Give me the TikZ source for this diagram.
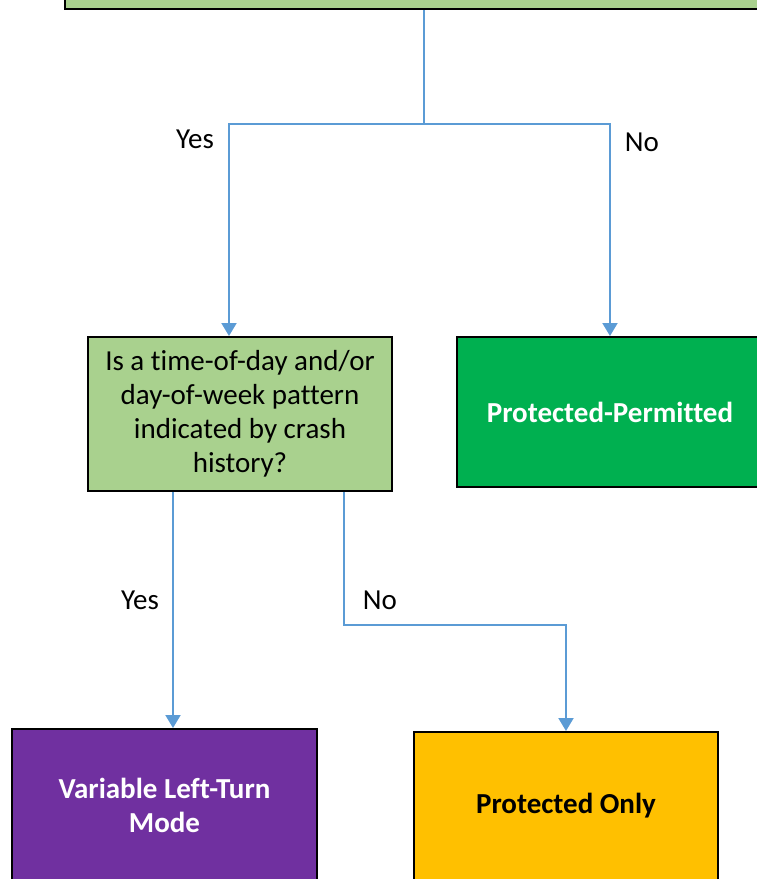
\documentclass[tikz,border=0pt]{standalone}
\usepackage{fontspec}
\setmainfont{Carlito}[Ligatures=NoCommon]
\usetikzlibrary{arrows.meta}

\definecolor{qgreen}{HTML}{A9D18E}
\definecolor{ppgreen}{HTML}{00B050}
\definecolor{vltpurple}{HTML}{7030A0}
\definecolor{poyellow}{HTML}{FFC000}
\definecolor{flowblue}{HTML}{5B9BD5}

\begin{document}
\begin{tikzpicture}[x=1pt, y=-1pt, line join=miter,
  box/.style={draw=black, line width=2pt, inner sep=0pt, align=center,
              font=\fontsize{29}{34}\selectfont},
  flow/.style={draw=flowblue, line width=2pt, -{Triangle[width=15pt,length=13pt]}},
  lbl/.style={font=\fontsize{29}{34}\selectfont, inner sep=0pt}]

  %% ════ boxes ════
  \node[box, fill=qgreen, anchor=south west, minimum width=760pt, minimum height=100pt] (top) at (64,10) {};
  \node[box, fill=qgreen, anchor=north west, minimum width=304pt, minimum height=154pt] (q) at (87,336)
    {Is a time-of-day and/or\\day-of-week pattern\\indicated by crash\\history?};
  \node[box, fill=ppgreen, anchor=north west, minimum width=306pt, minimum height=150pt,
        text=white, font=\fontsize{29}{34}\selectfont\bfseries] (pp) at (456,336) {Protected-Permitted};
  \node[box, fill=vltpurple, anchor=north west, minimum width=305pt, minimum height=152pt,
        text=white, font=\fontsize{29}{34}\selectfont\bfseries] (vlt) at (11,728) {Variable Left-Turn\\Mode};
  \node[box, fill=poyellow, anchor=north west, minimum width=304pt, minimum height=148pt,
        font=\fontsize{29}{34}\selectfont\bfseries] (po) at (413,731) {Protected Only};

  %% ════ connectors ════
  \coordinate (split) at (424,124);
  \draw[flow] (top.south -| split) -- (split) -| ([xshift=-11pt]q.north);
  \draw[flow] (split) -| (pp.north);
  \draw[flow] ([xshift=-67pt]q.south) -- ([xshift=-67pt]q.south |- vlt.north);
  \draw[flow] ([xshift=104pt]q.south) -- ++(0,133) -| (po.north);

  %% ════ labels ════
  \node[lbl] (yestop) at (195,139) {Yes};
  \node[lbl] (notop) at (642,142) {No};
  \node[lbl] (yesq) at (140,600) {Yes};
  \node[lbl] (noq) at (380,600) {No};

  % fix the canvas to the reference crop
  \pgfresetboundingbox
  \path[use as bounding box] (0,0) rectangle (756,879);
\end{tikzpicture}
\end{document}
